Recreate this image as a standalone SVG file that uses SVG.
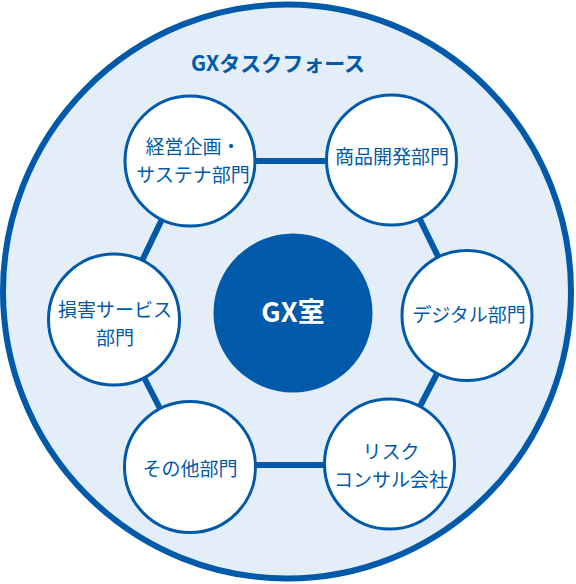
<svg xmlns="http://www.w3.org/2000/svg" width="576" height="584" viewBox="0 0 576 584">
<style>
.node{fill:#ffffff;stroke:#005aa9;stroke-width:3}
.lbl{font-family:"Noto Sans CJK JP","Noto Sans",sans-serif;font-size:19px;fill:#005aa9;text-anchor:middle}
.conn{stroke:#005aa9;stroke-width:6;fill:none}
</style>
<rect width="576" height="584" fill="#ffffff"/>
<g id="taskforce">
<ellipse cx="287" cy="291.5" rx="284" ry="287" fill="#e4eef9" stroke="#005aa9" stroke-width="6"/>
<text x="278" y="71" font-family="'Noto Sans CJK JP','Noto Sans',sans-serif" font-size="21" font-weight="bold" fill="#005aa9" text-anchor="middle">GXタスクフォース</text>
</g>
<g id="connectors">
<line class="conn" x1="190" y1="161" x2="391" y2="161"/>
<line class="conn" x1="391" y1="160" x2="467" y2="316"/>
<line class="conn" x1="467" y1="316" x2="390" y2="464"/>
<line class="conn" x1="390" y1="465" x2="190" y2="465"/>
<line class="conn" x1="190" y1="467" x2="114" y2="319"/>
<line class="conn" x1="114" y1="319" x2="190" y2="161"/>
</g>
<g id="gx">
<circle cx="293" cy="313" r="79.5" fill="#005aa9"/>
<text x="293" y="322" font-family="'Noto Sans CJK JP','Noto Sans',sans-serif" font-size="27" font-weight="bold" fill="#ffffff" text-anchor="middle">GX室</text>
</g>
<g id="keiei">
<circle class="node" cx="190" cy="161" r="65"/>
<text class="lbl" x="193" y="154">経営企画・</text>
<text class="lbl" x="193" y="182">サステナ部門</text>
</g>
<g id="shohin">
<circle class="node" cx="391.5" cy="160" r="65"/>
<text class="lbl" x="392" y="164">商品開発部門</text>
</g>
<g id="songai">
<circle class="node" cx="114" cy="319.5" r="65.5"/>
<text class="lbl" x="115" y="317">損害サービス</text>
<text class="lbl" x="115" y="345">部門</text>
</g>
<g id="digital">
<circle class="node" cx="467" cy="315.5" r="65"/>
<text class="lbl" x="469" y="322">デジタル部門</text>
</g>
<g id="sonota">
<circle class="node" cx="190" cy="467" r="65.5"/>
<text class="lbl" x="190" y="476">その他部門</text>
</g>
<g id="risk">
<circle class="node" cx="389.5" cy="464" r="65"/>
<text class="lbl" x="391" y="459">リスク</text>
<text class="lbl" x="391" y="487">コンサル会社</text>
</g>
</svg>
